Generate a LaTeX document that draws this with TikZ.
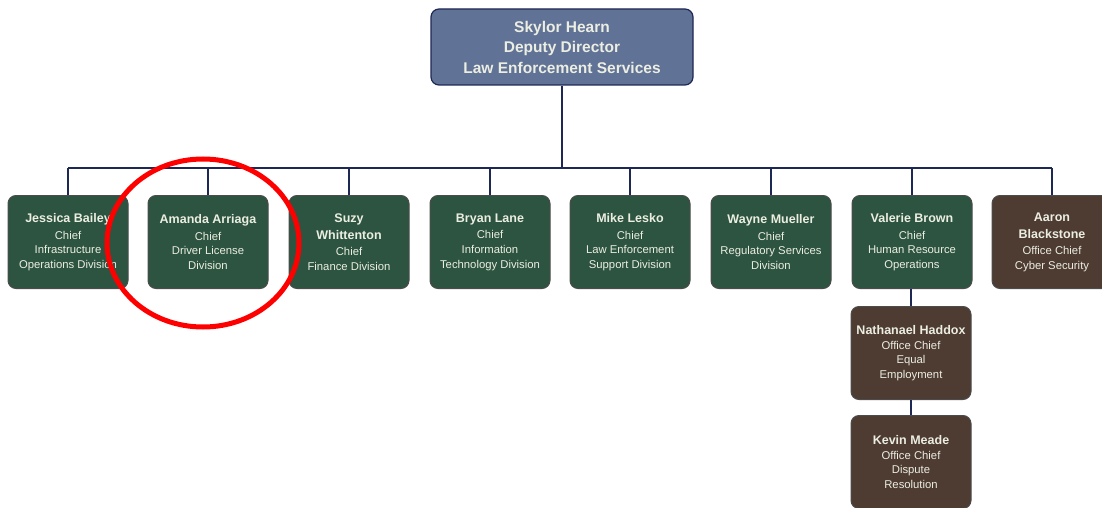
\documentclass[tikz,border=0pt]{standalone}
\usepackage{fontspec}
\setmainfont{Liberation Sans}
\definecolor{deputyblue}{RGB}{96,114,150}
\definecolor{chiefgreen}{RGB}{44,84,64}
\definecolor{officebrown}{RGB}{78,60,50}
\definecolor{linenavy}{RGB}{30,40,85}
\definecolor{textwhite}{RGB}{236,238,226}
\begin{document}
\begin{tikzpicture}[x=1pt,y=-1pt,
        deputy/.style={rectangle, rounded corners=8pt, draw=linenavy, line width=1.2pt, fill=deputyblue, text=textwhite, align=center, minimum width=262pt, minimum height=76pt, font=\fontsize{15.5}{20.5}\selectfont\bfseries},
        chief/.style={rectangle, rounded corners=8pt, draw=black!70, line width=1pt, fill=chiefgreen, text=textwhite, align=center, minimum width=120pt, minimum height=93pt, inner sep=1pt, font=\fontsize{11.3}{14.7}\selectfont},
        office/.style={chief, fill=officebrown},
        link/.style={draw=linenavy, line width=1.6pt}
    ]
        \useasboundingbox (0,0) rectangle (1102,508);

        % Deputy director
        \node[deputy] (deputy) at (562,47) {Skylor Hearn\\Deputy Director\\Law Enforcement Services};

        % Chiefs
        \node[chief] (jessica) at (68,242) {\textbf{\fontsize{12.5}{16}\selectfont Jessica Bailey}\\[2pt]Chief\\Infrastructure\\Operations Division};
        \node[chief] (amanda) at (208,242) {\textbf{\fontsize{12.5}{16}\selectfont Amanda Arriaga}\\[2pt]Chief\\Driver License\\Division};
        \node[chief] (suzy) at (349,242) {\textbf{\fontsize{12.5}{16}\selectfont Suzy}\\[3pt]\textbf{\fontsize{12.5}{16}\selectfont Whittenton}\\[1pt]Chief\\Finance Division};
        \node[chief] (bryan) at (490,242) {\textbf{\fontsize{12.5}{16}\selectfont Bryan Lane}\\[2pt]Chief\\Information\\Technology Division};
        \node[chief] (mike) at (630,242) {\textbf{\fontsize{12.5}{16}\selectfont Mike Lesko}\\[2pt]Chief\\Law Enforcement\\Support Division};
        \node[chief] (wayne) at (771,242) {\textbf{\fontsize{12.5}{16}\selectfont Wayne Mueller}\\[2pt]Chief\\Regulatory Services\\Division};
        \node[chief] (valerie) at (912,242) {\textbf{\fontsize{12.5}{16}\selectfont Valerie Brown}\\[2pt]Chief\\Human Resource\\Operations};
        \node[office] (aaron) at (1052,242) {\textbf{\fontsize{12.5}{16}\selectfont Aaron}\\[3pt]\textbf{\fontsize{12.5}{16}\selectfont Blackstone}\\[1pt]Office Chief\\Cyber Security};

        % Offices under Human Resource
        \node[office] (nathanael) at (911,353) {\textbf{\fontsize{12.5}{16}\selectfont Nathanael Haddox}\\[0pt]Office Chief\\Equal\\Employment};
        \node[office] (kevin) at (911,462) {\textbf{\fontsize{12.5}{16}\selectfont Kevin Meade}\\[0pt]Office Chief\\Dispute\\Resolution};

        % Connections
        \coordinate (bus) at (0,168);
        \draw[link] (deputy.south) -- (bus -| deputy.south);
        \draw[link] (bus -| jessica.north) -- (bus -| aaron.north);
        \foreach \c in {jessica,amanda,suzy,bryan,mike,wayne,valerie,aaron}
            \draw[link] (bus -| \c.north) -- (\c.north);
        \draw[link] (valerie.south -| nathanael.north) -- (nathanael.north);
        \draw[link] (nathanael.south) -- (kevin.north);

        % Highlight
        \draw[red, line width=5pt] (203,243) ellipse [x radius=96, y radius=84];
    \end{tikzpicture}
\end{document}
